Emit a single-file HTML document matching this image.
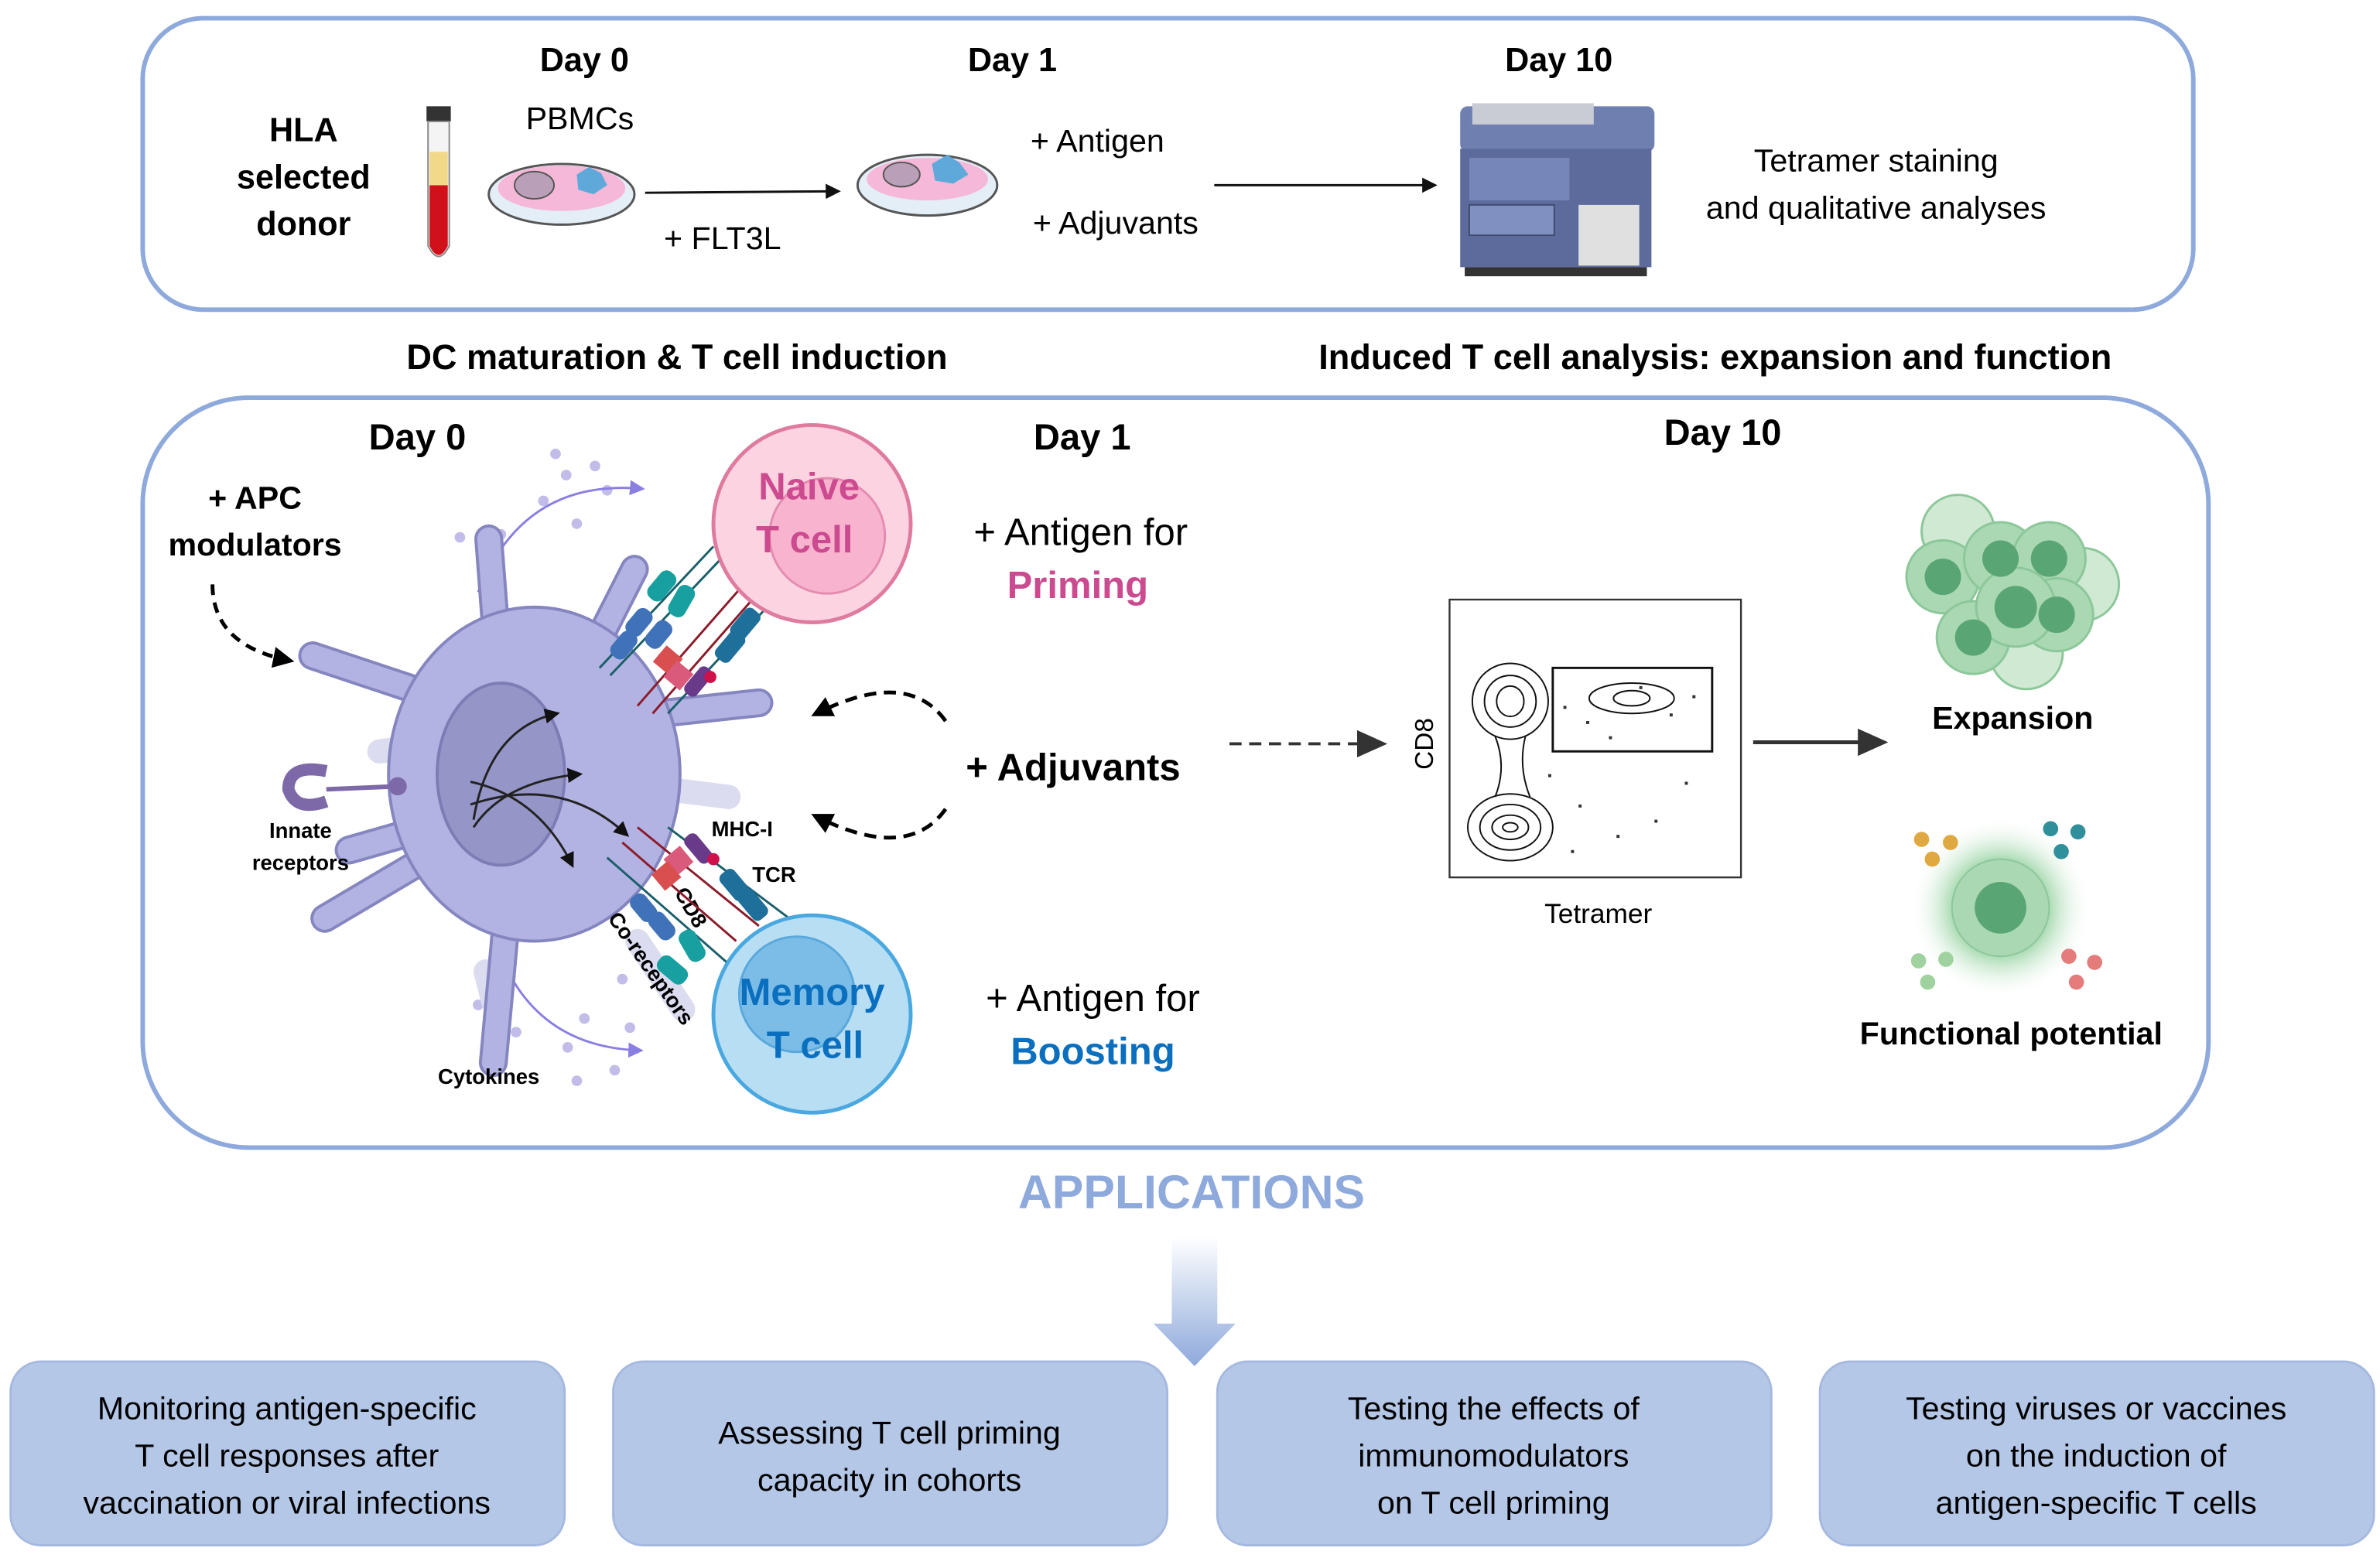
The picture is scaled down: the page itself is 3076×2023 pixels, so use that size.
<!DOCTYPE html>
<html><head><meta charset="utf-8"><style>
html,body{margin:0;padding:0;background:#fff}
svg{display:block}
text{font-family:"Liberation Sans",sans-serif}
</style></head><body>
<svg width="3076" height="2023" viewBox="0 0 1568 1031" preserveAspectRatio="none" xmlns="http://www.w3.org/2000/svg">
<defs>
<marker id="ah" markerWidth="10" markerHeight="10" refX="8" refY="5" orient="auto" markerUnits="userSpaceOnUse"><path d="M0,0 L10,5 L0,10 z" fill="#111"/></marker>
<marker id="ahb" markerWidth="20" markerHeight="18" refX="16" refY="9" orient="auto" markerUnits="userSpaceOnUse"><path d="M0,0 L20,9 L0,18 z" fill="#333"/></marker>
<marker id="ahp" markerWidth="10" markerHeight="10" refX="8" refY="5" orient="auto" markerUnits="userSpaceOnUse"><path d="M0,0 L10,5 L0,10 z" fill="#8a7fe0"/></marker>
<marker id="ahk" markerWidth="14" markerHeight="14" refX="10" refY="7" orient="auto" markerUnits="userSpaceOnUse"><path d="M0,0 L14,7 L0,14 z" fill="#000"/></marker>
<linearGradient id="ag" x1="0" y1="0" x2="0" y2="1"><stop offset="0" stop-color="#fff"/><stop offset="1" stop-color="#8ea9db"/></linearGradient>
<radialGradient id="glow"><stop offset="0.5" stop-color="#9ed6a8"/><stop offset="1" stop-color="#fff" stop-opacity="0"/></radialGradient>
</defs>

<!-- top box -->
<rect x="94" y="12" width="1351" height="192" rx="40" fill="none" stroke="#8ea9db" stroke-width="3"/>
<g font-weight="bold" font-size="22" text-anchor="middle">
<text x="385" y="47">Day 0</text><text x="667" y="47">Day 1</text><text x="1027" y="47">Day 10</text>
<text x="200" y="93">HLA</text><text x="200" y="124">selected</text><text x="200" y="155">donor</text>
</g>
<g font-size="21" text-anchor="middle">
<text x="382" y="85">PBMCs</text>
<text x="476" y="164">+  FLT3L</text>
<text x="723" y="100">+ Antigen</text>
<text x="735" y="154">+ Adjuvants</text>
<text x="1236" y="113">Tetramer staining</text>
<text x="1236" y="144">and qualitative analyses</text>
</g>
<!-- tube -->
<rect x="281" y="70" width="16" height="10" fill="#333"/>
<path d="M282,80 h14 v82 q-7,14 -14,0 z" fill="#f4f4f4" stroke="#888"/>
<path d="M283,122 h12 v40 q-6,12 -12,0 z" fill="#d0101a"/>
<rect x="283" y="100" width="12" height="22" fill="#f2d98a"/>
<!-- dishes -->
<ellipse cx="370" cy="128" rx="48" ry="20" fill="#e4eef6" stroke="#555" stroke-width="1.5"/>
<ellipse cx="370" cy="124" rx="42" ry="15" fill="#f5b8d8"/>
<ellipse cx="352" cy="122" rx="13" ry="9" fill="#b9a0b8" stroke="#555"/>
<path d="M380,115 l8,-5 l8,4 l4,8 l-9,6 l-10,-3 z" fill="#5ea9d9"/>
<ellipse cx="611" cy="122" rx="46" ry="20" fill="#e4eef6" stroke="#555" stroke-width="1.5"/>
<ellipse cx="611" cy="118" rx="40" ry="14" fill="#f5b8d8"/>
<ellipse cx="594" cy="115" rx="12" ry="8" fill="#b9a0b8" stroke="#555"/>
<path d="M614,108 l10,-6 l8,5 l6,8 l-10,6 l-12,-2 z" fill="#5ea9d9"/>
<line x1="425" y1="127" x2="552" y2="126" stroke="#111" stroke-width="1.5" marker-end="url(#ah)"/>
<line x1="800" y1="122" x2="945" y2="122" stroke="#111" stroke-width="1.5" marker-end="url(#ah)"/>
<!-- machine -->
<rect x="962" y="70" width="128" height="30" rx="5" fill="#6f7fb0"/>
<rect x="970" y="68" width="80" height="14" fill="#c9ccd4"/>
<rect x="962" y="98" width="126" height="78" fill="#5d6a9c"/>
<rect x="968" y="104" width="66" height="28" fill="#7786b8"/>
<rect x="968" y="135" width="56" height="20" fill="#8090c0" stroke="#404a70"/>
<rect x="1040" y="135" width="40" height="40" fill="#e0e0e0"/>
<rect x="965" y="176" width="120" height="6" fill="#333"/>

<!-- section titles -->
<g font-weight="bold" font-size="23" text-anchor="middle">
<text x="446" y="243">DC maturation &amp; T cell induction</text>
<text x="1130" y="243">Induced T cell analysis: expansion and function</text>
</g>

<!-- middle box -->
<rect x="94" y="262" width="1361" height="494" rx="70" fill="none" stroke="#8ea9db" stroke-width="3"/>
<g font-weight="bold" font-size="24" text-anchor="middle">
<text x="275" y="296">Day 0</text><text x="713" y="296">Day 1</text><text x="1135" y="293">Day 10</text>
</g>
<g font-weight="bold" font-size="21" text-anchor="middle">
<text x="168" y="335">+ APC</text><text x="168" y="366">modulators</text>
</g>
<path d="M140,385 q0,40 50,50" fill="none" stroke="#000" stroke-width="2.5" stroke-dasharray="7,5" marker-end="url(#ahk)"/>

<!-- cytokine dots -->
<g fill="#c2bde8">
<circle cx="366" cy="299" r="3.5"/><circle cx="392" cy="307" r="3.5"/><circle cx="373" cy="313" r="3.5"/><circle cx="358" cy="330" r="3.5"/><circle cx="380" cy="345" r="3.5"/><circle cx="330" cy="352" r="3.5"/><circle cx="400" cy="323" r="3.5"/><circle cx="320" cy="373" r="3.5"/><circle cx="303" cy="354" r="3.5"/>
<circle cx="410" cy="645" r="3.5"/><circle cx="415" cy="677" r="3.5"/><circle cx="385" cy="671" r="3.5"/><circle cx="374" cy="690" r="3.5"/><circle cx="405" cy="705" r="3.5"/><circle cx="380" cy="712" r="3.5"/><circle cx="315" cy="662" r="3.5"/><circle cx="340" cy="680" r="3.5"/><circle cx="330" cy="640" r="3.5"/>
</g>
<path d="M315,390 q30,-75 108,-68" fill="none" stroke="#8a7fe0" stroke-width="1.5" marker-end="url(#ahp)"/>
<path d="M330,630 q25,60 92,62" fill="none" stroke="#8a7fe0" stroke-width="1.5" marker-end="url(#ahp)"/>

<!-- faint background arms -->
<g stroke="#dcdcf0" stroke-width="16" stroke-linecap="round" fill="none">
<path d="M395,455 l10,-30"/><path d="M440,520 l40,5"/><path d="M320,640 l5,20"/><path d="M420,620 l30,45"/><path d="M290,490 l-40,5"/>
</g>
<!-- DC arms -->
<g stroke="#8585c0" stroke-width="19" stroke-linecap="round" stroke-linejoin="round" fill="none">
<path d="M330,460 L322,355"/><path d="M385,440 L418,375"/><path d="M290,460 L206,432"/><path d="M435,470 L500,463"/><path d="M290,560 L214,605"/><path d="M335,590 L325,700"/><path d="M300,540 L230,560"/>
</g>
<g stroke="#b3b3e3" stroke-width="15" stroke-linecap="round" stroke-linejoin="round" fill="none">
<path d="M330,460 L322,355"/><path d="M385,440 L418,375"/><path d="M290,460 L206,432"/><path d="M435,470 L500,463"/><path d="M290,560 L214,605"/><path d="M335,590 L325,700"/><path d="M300,540 L230,560"/>
</g>
<ellipse cx="352" cy="510" rx="96" ry="110" fill="#b3b3e3" stroke="#8585c0" stroke-width="2"/>
<ellipse cx="330" cy="510" rx="42" ry="60" fill="#9595c8" stroke="#7d7db5" stroke-width="2"/>
<g stroke="#222" stroke-width="1.5" fill="none" marker-end="url(#ah)">
<path d="M312,540 q10,-60 55,-70"/><path d="M312,545 q20,-30 70,-35"/><path d="M310,530 q60,-20 103,20"/><path d="M310,515 q45,10 67,55"/>
</g>
<!-- innate receptor -->
<path d="M215,508 q-25,-5 -25,12 q5,15 25,8" fill="none" stroke="#7d68a8" stroke-width="8"/>
<line x1="215" y1="520" x2="262" y2="518" stroke="#7d68a8" stroke-width="3"/>
<circle cx="262" cy="518" r="6" fill="#7d68a8"/>
<g font-weight="bold" font-size="14" text-anchor="middle">
<text x="198" y="552">Innate</text><text x="198" y="573">receptors</text>
<text x="322" y="714">Cytokines</text>
<text x="489" y="551">MHC-I</text><text x="510" y="581">TCR</text>
</g>
<text transform="translate(444,588) rotate(60)" font-weight="bold" font-size="14">CD8</text>
<text transform="translate(400,605) rotate(55)" font-weight="bold" font-size="14">Co-receptors</text>

<!-- receptor bars -->
<g stroke-width="1.5">
<line x1="395" y1="440" x2="470" y2="360" stroke="#1a5f6a"/><line x1="402" y1="445" x2="478" y2="365" stroke="#1a5f6a"/>
<line x1="420" y1="465" x2="490" y2="385" stroke="#8b1c2b"/><line x1="430" y1="470" x2="500" y2="390" stroke="#8b1c2b"/>
<line x1="440" y1="470" x2="510" y2="395" stroke="#1a5f6a"/>
<line x1="420" y1="545" x2="500" y2="610" stroke="#8b1c2b"/><line x1="410" y1="555" x2="485" y2="620" stroke="#8b1c2b"/>
<line x1="440" y1="545" x2="520" y2="605" stroke="#1a5f6a"/><line x1="400" y1="565" x2="480" y2="635" stroke="#1a5f6a"/>
</g>
<g>
<rect x="430" y="375" width="12" height="22" rx="5" fill="#18a0a0" transform="rotate(40 436 386)"/>
<rect x="443" y="385" width="12" height="22" rx="5" fill="#18a0a0" transform="rotate(30 449 396)"/>
<rect x="415" y="400" width="12" height="20" rx="5" fill="#3f72b8" transform="rotate(40 421 410)"/>
<rect x="428" y="408" width="12" height="20" rx="5" fill="#3f72b8" transform="rotate(40 434 418)"/>
<rect x="405" y="415" width="12" height="20" rx="5" fill="#3f72b8" transform="rotate(40 411 425)"/>
<rect x="433" y="428" width="14" height="14" fill="#d94f4f" transform="rotate(40 440 435)"/>
<rect x="440" y="438" width="14" height="14" fill="#d95a7a" transform="rotate(40 447 445)"/>
<rect x="455" y="438" width="10" height="22" rx="4" fill="#6a3a8a" transform="rotate(40 460 449)"/>
<circle cx="468" cy="446" r="4" fill="#d0104a"/>
<rect x="475" y="415" width="12" height="22" rx="4" fill="#1e6f9a" transform="rotate(40 481 426)"/>
<rect x="485" y="400" width="12" height="22" rx="4" fill="#1e6f9a" transform="rotate(40 491 411)"/>
<rect x="455" y="548" width="10" height="22" rx="4" fill="#6a3a8a" transform="rotate(-40 460 559)"/>
<circle cx="470" cy="566" r="4" fill="#d0104a"/>
<rect x="440" y="560" width="14" height="14" fill="#d95a7a" transform="rotate(-40 447 567)"/>
<rect x="432" y="570" width="14" height="14" fill="#d94f4f" transform="rotate(-40 439 577)"/>
<rect x="478" y="572" width="12" height="22" rx="4" fill="#1e6f9a" transform="rotate(-40 484 583)"/>
<rect x="490" y="585" width="12" height="22" rx="4" fill="#1e6f9a" transform="rotate(-40 496 596)"/>
<rect x="418" y="588" width="12" height="20" rx="5" fill="#3f72b8" transform="rotate(-40 424 598)"/>
<rect x="430" y="600" width="12" height="20" rx="5" fill="#3f72b8" transform="rotate(-40 436 610)"/>
<rect x="450" y="612" width="12" height="22" rx="5" fill="#18a0a0" transform="rotate(-30 456 623)"/>
<rect x="437" y="628" width="12" height="22" rx="5" fill="#18a0a0" transform="rotate(-50 443 639)"/>
</g>

<!-- T cells -->
<circle cx="535" cy="345" r="65" fill="#fcd3e1" stroke="#e07ba0" stroke-width="2.5"/>
<circle cx="545" cy="353" r="38" fill="#f8b3cf" stroke="#e48cb0" stroke-width="1.5"/>
<g font-weight="bold" font-size="25" fill="#cc4a8f" text-anchor="middle"><text x="533" y="329">Naive</text><text x="530" y="364">T cell</text></g>
<circle cx="535" cy="668" r="65" fill="#b8def3" stroke="#4aa8e0" stroke-width="2.5"/>
<circle cx="525" cy="655" r="38" fill="#7bbde6" stroke="#5aa8dc" stroke-width="1.5"/>
<g font-weight="bold" font-size="25" fill="#0a6fbf" text-anchor="middle"><text x="535" y="662">Memory</text><text x="537" y="697">T cell</text></g>

<!-- Day 1 text -->
<g font-size="25" text-anchor="middle">
<text x="712" y="359">+ Antigen for</text>
<text x="720" y="666">+ Antigen for</text>
</g>
<text x="710" y="394" font-size="25" font-weight="bold" fill="#cc4a8f" text-anchor="middle">Priming</text>
<text x="720" y="701" font-size="25" font-weight="bold" fill="#0a6fbf" text-anchor="middle">Boosting</text>
<text x="707" y="514" font-size="25" font-weight="bold" text-anchor="middle">+ Adjuvants</text>
<path d="M623,475 q-25,-35 -85,-5" fill="none" stroke="#000" stroke-width="2.5" stroke-dasharray="8,5" marker-end="url(#ahk)"/>
<path d="M623,533 q-25,35 -85,5" fill="none" stroke="#000" stroke-width="2.5" stroke-dasharray="8,5" marker-end="url(#ahk)"/>
<line x1="810" y1="490" x2="910" y2="490" stroke="#333" stroke-width="2" stroke-dasharray="8,5" marker-end="url(#ahb)"/>

<!-- flow plot -->
<rect x="955" y="395" width="192" height="183" fill="#fff" stroke="#333" stroke-width="1.2"/>
<text transform="translate(944,490) rotate(-90)" font-size="17" text-anchor="middle">CD8</text>
<text x="1053" y="608" font-size="18" text-anchor="middle">Tetramer</text>
<g fill="none" stroke="#111" stroke-width="1">
<ellipse cx="995" cy="545" rx="28" ry="22"/><ellipse cx="995" cy="545" rx="20" ry="15"/><ellipse cx="995" cy="545" rx="12" ry="8"/><ellipse cx="995" cy="545" rx="5" ry="3"/>
<ellipse cx="995" cy="462" rx="25" ry="25"/><ellipse cx="995" cy="462" rx="17" ry="17"/><ellipse cx="995" cy="462" rx="9" ry="10"/>
<path d="M985,485 q8,20 0,40 M1005,485 q-5,20 3,40"/>
<ellipse cx="1075" cy="460" rx="28" ry="10"/><ellipse cx="1075" cy="460" rx="12" ry="5"/>
</g>
<rect x="1023" y="440" width="105" height="55" fill="none" stroke="#111" stroke-width="1.5"/>
<g fill="#333">
<rect x="1030" y="465" width="2" height="2"/><rect x="1045" y="475" width="2" height="2"/><rect x="1100" y="470" width="2" height="2"/><rect x="1060" y="485" width="2" height="2"/><rect x="1020" y="510" width="2" height="2"/><rect x="1040" y="530" width="2" height="2"/><rect x="1065" y="550" width="2" height="2"/><rect x="1090" y="540" width="2" height="2"/><rect x="1110" y="515" width="2" height="2"/><rect x="1035" y="560" width="2" height="2"/><rect x="1080" y="452" width="2" height="2"/><rect x="1115" y="458" width="2" height="2"/>
</g>
<line x1="1155" y1="489" x2="1240" y2="489" stroke="#333" stroke-width="2.5" marker-end="url(#ahb)"/>

<!-- expansion cluster -->
<g stroke="#8cc79a" stroke-width="1.5">
<circle cx="1290" cy="350" r="24" fill="#cfe9d3"/><circle cx="1372" cy="385" r="24" fill="#cfe9d3"/><circle cx="1335" cy="430" r="24" fill="#cfe9d3"/>
<circle cx="1280" cy="380" r="24" fill="#a9d8b2"/><circle cx="1318" cy="368" r="24" fill="#a9d8b2"/><circle cx="1350" cy="368" r="24" fill="#a9d8b2"/>
<circle cx="1300" cy="420" r="24" fill="#a9d8b2"/><circle cx="1355" cy="405" r="24" fill="#a9d8b2"/><circle cx="1328" cy="400" r="26" fill="#a9d8b2"/>
</g>
<g fill="#5aa574"><circle cx="1280" cy="380" r="12"/><circle cx="1318" cy="368" r="12"/><circle cx="1350" cy="368" r="12"/><circle cx="1300" cy="420" r="12"/><circle cx="1355" cy="405" r="12"/><circle cx="1328" cy="400" r="14"/></g>
<text x="1326" y="480" font-size="21" font-weight="bold" text-anchor="middle">Expansion</text>
<circle cx="1318" cy="598" r="60" fill="url(#glow)"/>
<circle cx="1318" cy="598" r="32" fill="#a9d8b2" stroke="#8cc79a"/>
<circle cx="1318" cy="598" r="17" fill="#5aa574"/>
<g fill="#e0a840"><circle cx="1266" cy="553" r="5"/><circle cx="1285" cy="555" r="5"/><circle cx="1273" cy="566" r="5"/></g>
<g fill="#2f8f9a"><circle cx="1351" cy="546" r="5"/><circle cx="1369" cy="548" r="5"/><circle cx="1358" cy="561" r="5"/></g>
<g fill="#9fd29f"><circle cx="1264" cy="633" r="5"/><circle cx="1282" cy="632" r="5"/><circle cx="1270" cy="647" r="5"/></g>
<g fill="#e57c7c"><circle cx="1363" cy="630" r="5"/><circle cx="1380" cy="634" r="5"/><circle cx="1368" cy="647" r="5"/></g>
<text x="1325" y="688" font-size="21" font-weight="bold" text-anchor="middle">Functional potential</text>

<!-- applications -->
<text x="785" y="796" font-size="31" font-weight="bold" fill="#8ea9db" text-anchor="middle">APPLICATIONS</text>
<path d="M772,815 h30 v57 h12 l-27,28 l-27,-28 h12 z" fill="url(#ag)"/>
<g fill="#b4c7e7" stroke="#a5b9e0" stroke-width="1.5">
<rect x="7" y="897" width="365" height="121" rx="20"/>
<rect x="404" y="897" width="365" height="121" rx="20"/>
<rect x="802" y="897" width="365" height="121" rx="20"/>
<rect x="1199" y="897" width="365" height="121" rx="20"/>
</g>
<g font-size="21" text-anchor="middle">
<text x="189" y="935">Monitoring antigen-specific</text><text x="189" y="966">T cell responses after</text><text x="189" y="997">vaccination or viral infections</text>
<text x="586" y="951">Assessing T cell priming</text><text x="586" y="982">capacity in cohorts</text>
<text x="984" y="935">Testing the effects of</text><text x="984" y="966">immunomodulators</text><text x="984" y="997">on T cell priming</text>
<text x="1381" y="935">Testing viruses or vaccines</text><text x="1381" y="966">on the induction of</text><text x="1381" y="997">antigen-specific T cells</text>
</g>
</svg>
</body></html>
